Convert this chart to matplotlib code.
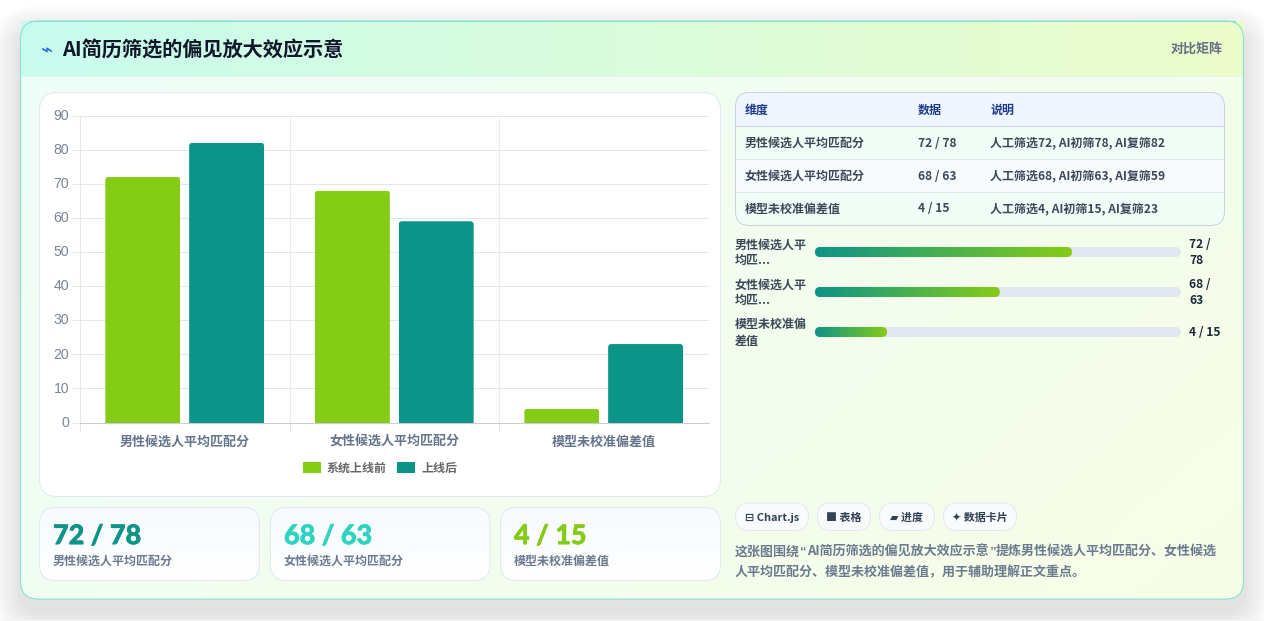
import numpy as np
import matplotlib
matplotlib.use("Agg")
import matplotlib.pyplot as plt
import matplotlib.patheffects as pe
from matplotlib.patches import FancyBboxPatch, Rectangle, Patch
from matplotlib.colors import to_rgb
from matplotlib.transforms import ScaledTranslation

W, H = 1264, 621
CJK = ['Noto Sans CJK SC', 'DejaVu Sans']
plt.rcParams['font.family'] = CJK

# Chart data
categories = ['男性候选人平均匹配分', '女性候选人平均匹配分', '模型未校准偏差值']
before_launch = [72, 68, 4]
after_launch = [82, 59, 23]
series_names = ['系统上线前', '上线后']
y_ticks = [0, 10, 20, 30, 40, 50, 60, 70, 80, 90]

# Table content
table_header = ['维度', '数据', '说明']
table_pairs = ['72 / 78', '68 / 63', '4 / 15']
table_notes = ['人工筛选72, AI初筛78, AI复筛82',
               '人工筛选68, AI初筛63, AI复筛59',
               '人工筛选4, AI初筛15, AI复筛23']

# Progress rows
progress_labels = [['男性候选人平', '均匹...'], ['女性候选人平', '均匹...'], ['模型未校准偏', '差值']]
progress_values = [['72 /', '78'], ['68 /', '63'], ['4 / 15']]
progress_percent = [70.2, 50.5, 19.7]

# Cards, chips and caption
card_colors = ['#0f9488', '#2dd4bf', '#84cc16']
chips = ['⊟ Chart.js', '■ 表格', '▰ 进度', '✦ 数据卡片']
caption_first = ['这张图围绕', '“', 'AI简历筛选的偏见放大效应示意', '”', '提炼男性候选人平均匹配分、女性候选']
caption_second = '人平均匹配分、模型未校准偏差值，用于辅助理解正文重点。'

TEAL = '#0d9488'
LIME = '#84cc16'
PX = 0.72  # one CSS pixel in points at 100 dpi


def pt(px):
    return px * PX


fig = plt.figure(figsize=(W / 100, H / 100), dpi=100, facecolor='white')
bg = fig.add_axes([0, 0, 1, 1], zorder=0)
bg.set_axis_off()
bg.set_xlim(0, W)
bg.set_ylim(H, 0)


def rrect(x0, y0, x1, y1, r, fc='white', ec='none', lw=PX, alpha=None, z=2):
    p = FancyBboxPatch((x0, y0), x1 - x0, y1 - y0,
                       boxstyle=f'round,pad=0,rounding_size={r}',
                       fc=fc, ec=ec, lw=lw, alpha=alpha, zorder=z)
    bg.add_patch(p)
    return p


def gradient(x0, y0, x1, y1, c0, c1, clip=None, z=2, vertical=0.0):
    nx, ny = 256, 64
    gx, gy = np.meshgrid(np.linspace(0, 1, nx), np.linspace(0, 1, ny))
    t = ((1 - vertical) * gx + vertical * gy)[..., None]
    img = np.array(to_rgb(c0)) * (1 - t) + np.array(to_rgb(c1)) * t
    im = bg.imshow(img, extent=(x0, x1, y1, y0), aspect='auto', zorder=z,
                   interpolation='bilinear')
    if clip is not None:
        im.set_clip_path(clip)
    return im


def txt(x, y, s, px, color, weight='normal', ha='left', family=None, z=6):
    # y is the optical middle of the line; text sits on a shared baseline below it
    return bg.text(x, y + 0.32 * px, s, fontsize=pt(px), color=color, fontweight=weight,
                   ha=ha, va='baseline', family=family if family else CJK, zorder=z)


# Soft drop shadow under the main card
for i in range(28, 0, -1):
    rrect(20 - i, 21 + 12 - i, 1244 + i, 599 + 12 + i, 18 + i, fc='#0f172a', alpha=0.002, z=1)
bg.add_patch(Rectangle((0, 619.5), W, 2, fc='#f3f5f7', ec='none', zorder=1))

# Main card body and header band
card_clip = rrect(20.5, 21, 1243.5, 599, 18, fc='none', z=2)
gradient(20.5, 21, 1243.5, 599, '#eefdf9', '#f7fee7', clip=card_clip, z=2, vertical=0.35)
gradient(20.5, 21, 1243.5, 76, '#c9fbee', '#ecfccb', z=3)
bg.plot([20.5, 1243.5], [76, 76], color='#e2f5ee', lw=PX, zorder=3)
rrect(20.5, 21, 1243.5, 599, 18, fc='none', ec='#7fe3cf', lw=PX, z=4)
bg.plot([30, 1235], [21, 21], color='#7fe3cf', lw=PX, zorder=4)

# Header text
txt(41, 50, '⌁', 20, '#2563eb', family='DejaVu Sans')
txt(62, 50, 'AI简历筛选的偏见放大效应示意', 20.2, '#0f172a', 'bold')
txt(1223, 48.5, '对比矩阵', 13, '#667085', 'bold', ha='right')

# Panel behind the bar chart
rrect(39.5, 92.5, 720.5, 496.5, 18, fc='white', ec='#e2e8f0', z=4)

# Bar chart
ax = fig.add_axes([80 / W, 1 - 422.5 / H, (708.5 - 80) / W, (422.5 - 115.5) / H], zorder=2)
ax.patch.set_alpha(0)
x = np.arange(len(categories))
bar_w = 0.358
offset = 0.2
bars_a = ax.bar(x - offset, before_launch, bar_w, color=LIME, zorder=3)
bars_b = ax.bar(x + offset, after_launch, bar_w, color=TEAL, zorder=3)
ax.set_xlim(-0.5, 2.5)
ax.set_ylim(0, 90)

# Round the upper corners of each bar with a taller clip shape
rx = 3.5 / (628 / 3)
ry = 3.5 / (307 / 90)
for b in list(bars_a) + list(bars_b):
    clip = FancyBboxPatch((b.get_x(), -10), b.get_width(), b.get_height() + 10,
                          boxstyle=f'round,pad=0,rounding_size={rx}',
                          mutation_aspect=ry / rx, transform=ax.transData)
    b.set_clip_path(clip)

GRID = '#e3e6ec'
ax.set_yticks(y_ticks)
ax.set_xticks(x)
ax.set_xticklabels(categories, fontsize=pt(13), color='#64748b', fontweight='bold')
ax.set_xticks([-0.5, 0.5, 1.5], minor=True)
ax.tick_params(axis='x', which='major', length=0, pad=8.5)
ax.tick_params(axis='x', which='minor', length=pt(9), width=PX, color=GRID)
ax.tick_params(axis='y', length=pt(8), width=PX, color=GRID, pad=pt(3),
               labelcolor='#7b8494', labelsize=pt(14))
for lab in ax.get_yticklabels():
    lab.set_fontfamily('Liberation Sans')
    lab.set_transform(lab.get_transform() + ScaledTranslation(0, 1.2 / 100, fig.dpi_scale_trans))
ax.grid(axis='y', color=GRID, lw=PX, zorder=0)
ax.grid(axis='x', which='minor', color='#e8ebf0', lw=PX, zorder=0)
for side in ('top', 'right'):
    ax.spines[side].set_visible(False)
ax.spines['left'].set_color(GRID)
ax.spines['left'].set_linewidth(PX)
ax.spines['bottom'].set_color('#c8ced8')
ax.spines['bottom'].set_linewidth(PX)
ax.set_axisbelow(True)

ax.legend(handles=[Patch(fc=LIME, label=series_names[0]), Patch(fc=TEAL, label=series_names[1])],
          loc='center', bbox_to_anchor=(380 / W, 1 - 468 / H), bbox_transform=fig.transFigure,
          ncol=2, frameon=False, prop={'family': CJK, 'size': pt(12), 'weight': 'bold'},
          labelcolor='#666666', handlelength=1.5, handleheight=1.0, handletextpad=0.5,
          columnspacing=0.85, borderpad=0, borderaxespad=0)

# Stat cards
stat_boxes = [(39.5, 259.5), (270.5, 490), (500.5, 720.5)]
for (x0, x1), pair, label, col in zip(stat_boxes, table_pairs, categories, card_colors):
    clip = rrect(x0, 507.5, x1, 580.5, 16, fc='none', z=3)
    gradient(x0, 507.5, x1, 580.5, '#f7fafe', '#ffffff', clip=clip, z=3, vertical=1.0)
    rrect(x0, 507.5, x1, 580.5, 16, fc='none', ec='#dfeaf1', z=4)
    num = txt(x0 + 13.5, 535.5, pair, 27, col, 'black', family='Lato')
    num.set_path_effects([pe.withStroke(linewidth=0.4, foreground=col)])
    txt(x0 + 13.5, 561, label, 12, '#6b7a8e', 'bold')

# Comparison table
clip = rrect(735.5, 92.5, 1224.5, 225.5, 14, fc='#ffffff', z=3)
row_edges = [92.5, 125.5, 158.5, 191.5, 225.5]
row_fill = ['#eff6ff', '#f0fdf6', '#f8fbfb', '#f0fdf6']
for i, fc in enumerate(row_fill):
    r = Rectangle((735.5, row_edges[i]), 489, row_edges[i + 1] - row_edges[i], fc=fc, ec='none', zorder=3)
    bg.add_patch(r)
    r.set_clip_path(clip)
for i, edge in enumerate(row_edges[1:-1]):
    bg.plot([736, 1224], [edge, edge], color='#cbd5e1' if i == 0 else '#e2e8f0', lw=PX, zorder=4)
rrect(735.5, 92.5, 1224.5, 225.5, 14, fc='none', ec='#c7d3dd', z=5)
col_x = [744.5, 918, 990.5]
for cx, head in zip(col_x, table_header):
    txt(cx, 110, head, 12, '#1e3a8a', 'bold')
row_y = [143, 176, 208.5]
for y, name, pair, note in zip(row_y, categories, table_pairs, table_notes):
    txt(col_x[0], y, name, 12, '#3c4859', 'bold')
    txt(col_x[1], y, pair, 12, '#3c4859', 'bold')
    txt(col_x[2], y, note, 12, '#3c4859', 'bold')

# Progress bars
bar_y = [252, 292, 332]
track_x0, track_x1 = 815, 1181
for y, labels, vals, pct in zip(bar_y, progress_labels, progress_values, progress_percent):
    rrect(track_x0, y - 5, track_x1, y + 5, 5, fc='#e2e8f0', z=3)
    end = track_x0 + (track_x1 - track_x0) * pct / 100
    clip = rrect(track_x0, y - 5, end, y + 5, 5, fc='none', z=4)
    gradient(track_x0, y - 5, end, y + 5, TEAL, LIME, clip=clip, z=4)
    for k, s in enumerate(labels):
        txt(734.5, y - 7.5 + 16 * k, s, 12, '#3c4859', 'bold')
    if len(vals) == 2:
        for k, s in enumerate(vals):
            txt(1189, y - 7.5 + 16 * k, s, 12, '#1e293b', 'bold')
    else:
        txt(1189, y + 0.5, vals[0], 12, '#1e293b', 'bold')

# Chips
chip_boxes = [(735.5, 808.5), (817.5, 870.5), (879.5, 934.5), (943.5, 1016.5)]
for (x0, x1), s in zip(chip_boxes, chips):
    rrect(x0, 503, x1, 530.5, 13.5, fc='#f8fafc', ec='#e2e8f0', z=4)
    txt((x0 + x1) / 2, 517, s, 11, '#334155', 'bold', ha='center')

# Caption: first line is laid out piece by piece so the quotes stay narrow
renderer = fig.canvas.get_renderer()
cursor = 735
for piece in caption_first:
    fam = ['Liberation Sans'] if piece in '“”' else None
    t = txt(cursor, 551.5, piece, 13, '#6b7a8e', 'bold', family=fam)
    cursor = t.get_window_extent(renderer).x1 + (0.5 if piece in '“”' else 0)
txt(735, 572, caption_second, 13, '#6b7a8e', 'bold')

bg.set_xlim(0, W)
bg.set_ylim(H, 0)

fig.savefig('out.png', dpi=100)
